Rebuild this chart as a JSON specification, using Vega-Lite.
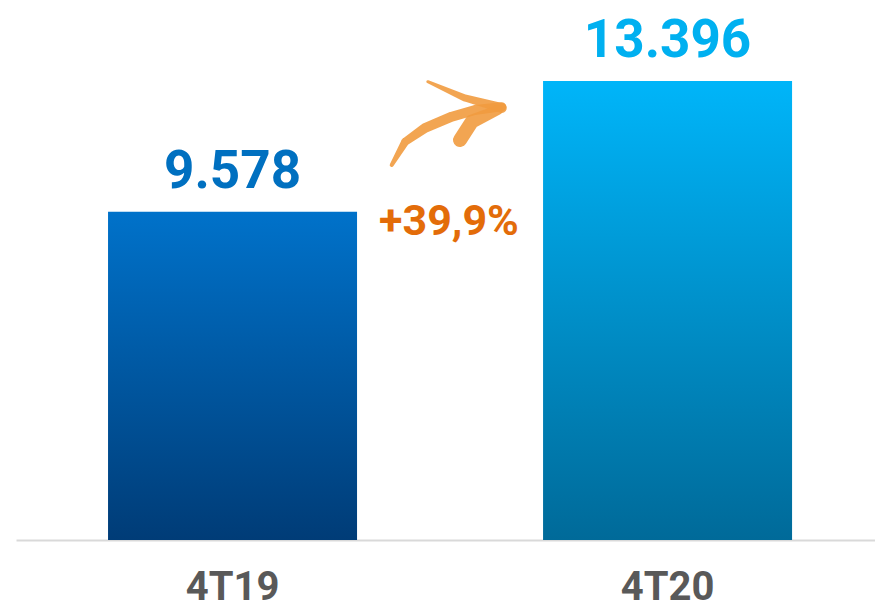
{
  "$schema": "https://vega.github.io/schema/vega-lite/v6.json",
  "width": 875,
  "height": 540,
  "autosize": "none",
  "padding": {"left": 0, "top": 0, "right": 0, "bottom": 72},
  "background": "white",
  "config": {"view": {"stroke": null}},
  "datasets": {
    "bars": [
      {"q": "4T19", "v": 9578, "lbl": "9.578"},
      {"q": "4T20", "v": 13396, "lbl": "13.396"}
    ],
    "arrow": [
      {"g": "shaft", "o": 1, "x": 0.366, "y": 10944, "w": 4},
      {"g": "shaft", "o": 2, "x": 0.397, "y": 11624, "w": 8},
      {"g": "shaft", "o": 3, "x": 0.4425, "y": 12024, "w": 10},
      {"g": "shaft", "o": 4, "x": 0.504, "y": 12354, "w": 10},
      {"g": "shaft", "o": 5, "x": 0.5575, "y": 12550, "w": 10},
      {"g": "shaft", "o": 6, "x": 0.619, "y": 12646, "w": 9},
      {"g": "upper", "o": 1, "x": 0.449, "y": 13376, "w": 3},
      {"g": "upper", "o": 2, "x": 0.534, "y": 12900, "w": 7},
      {"g": "upper", "o": 3, "x": 0.619, "y": 12608, "w": 10},
      {"g": "lower", "o": 1, "x": 0.523, "y": 11674, "w": 14},
      {"g": "lower", "o": 2, "x": 0.55, "y": 12208, "w": 14},
      {"g": "lower", "o": 3, "x": 0.61, "y": 12550, "w": 10}
    ],
    "note": [{"x": 0.4977, "y": 8901, "t": "+39,9%"}]
  },
  "resolve": {"scale": {"x": "independent"}, "axis": {"x": "independent"}},
  "layer": [
    {
      "data": {"name": "bars"},
      "encoding": {
        "x": {
          "field": "q", "type": "nominal",
          "scale": {"domain": ["4T19", "4T20"], "range": [16, 875], "paddingInner": 0.4276, "paddingOuter": 0.2011, "align": 0.526},
          "axis": {
            "title": null, "ticks": false, "tickSize": 0, "labelAngle": 0,
            "domainColor": "#d9d9d9", "domainWidth": 2,
            "labelFont": "Roboto", "labelFontSize": 40, "labelFontWeight": "bold",
            "labelColor": "#595959", "labelPadding": 27, "labelBaseline": "top"
          }
        },
        "y": {"field": "v", "type": "quantitative", "scale": {"domain": [0, 15760], "nice": false}, "axis": null}
      },
      "layer": [
        {
          "transform": [{"filter": "datum.q === '4T19'"}],
          "mark": {"type": "bar", "color": {"gradient": "linear", "x1": 0, "y1": 0, "x2": 0, "y2": 1, "stops": [{"offset": 0, "color": "#0072ca"}, {"offset": 1, "color": "#003c77"}]}}
        },
        {
          "transform": [{"filter": "datum.q === '4T20'"}],
          "mark": {"type": "bar", "color": {"gradient": "linear", "x1": 0, "y1": 0, "x2": 0, "y2": 1, "stops": [{"offset": 0, "color": "#00b5f9"}, {"offset": 1, "color": "#006a99"}]}}
        },
        {
          "mark": {"type": "text", "baseline": "alphabetic", "dy": -24, "font": "Roboto", "fontSize": 53, "fontWeight": "bold"},
          "encoding": {
            "text": {"field": "lbl"},
            "color": {"field": "q", "type": "nominal", "scale": {"domain": ["4T19", "4T20"], "range": ["#0070c0", "#00b0f0"]}, "legend": null}
          }
        }
      ]
    },
    {
      "encoding": {
        "x": {"field": "x", "type": "quantitative", "scale": {"domain": [-0.5345, 1.477], "nice": false, "zero": false}, "axis": null},
        "y": {"field": "y", "type": "quantitative"}
      },
      "layer": [
        {
          "data": {"name": "arrow"},
          "mark": {"type": "trail", "color": "#f19b3f", "opacity": 0.9},
          "encoding": {
            "size": {"field": "w", "type": "quantitative", "scale": null},
            "order": {"field": "o", "type": "quantitative"},
            "detail": {"field": "g", "type": "nominal"}
          }
        },
        {
          "data": {"name": "note"},
          "mark": {"type": "text", "baseline": "alphabetic", "font": "Roboto", "fontSize": 43, "fontWeight": "bold", "color": "#e36c09"},
          "encoding": {"text": {"field": "t"}}
        }
      ]
    }
  ]
}
